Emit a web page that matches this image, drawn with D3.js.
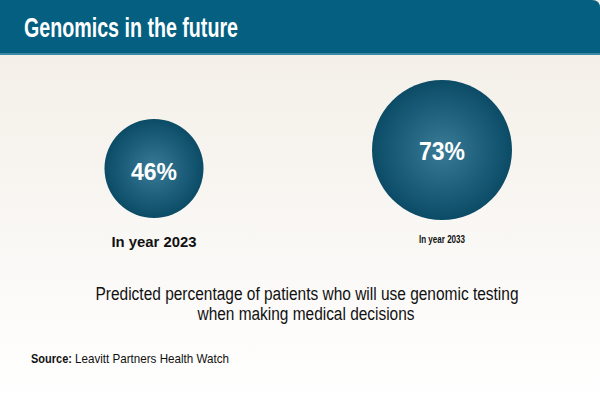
<!DOCTYPE html>
<html>
<head>
<meta charset="utf-8">
<script src="https://cdnjs.cloudflare.com/ajax/libs/d3/7.8.5/d3.min.js"></script>
<style>
  body { margin: 0; padding: 0; background: #fff; }
  svg { display: block; }
</style>
</head>
<body>
<script>
var years = ["In year 2023", "In year 2033"];
var values = [46, 73];
var labels = ["46%", "73%"];
var label_sizes = [15, 10];

var width = 600,
    height = 399;

var font = "'Liberation Sans', Arial, sans-serif";

var svg = d3.select("body").append("svg")
    .attr("width", width)
    .attr("height", height);

var defs = svg.append("defs");

// background, beige fading to white
var bg = defs.append("linearGradient")
    .attr("id", "bg_grad")
    .attr("x1", "0%").attr("x2", "0%")
    .attr("y1", "0%").attr("y2", "100%");
bg.append("stop").attr("offset", "0%").attr("stop-color", "#f2ede5");
bg.append("stop").attr("offset", "100%").attr("stop-color", "#ffffff");

var bubble = defs.append("radialGradient")
    .attr("id", "bubble_grad")
    .attr("cx", "50%").attr("cy", "50%").attr("r", "50%");
bubble.append("stop").attr("offset", "0%").attr("stop-color", "#3a7c96");
bubble.append("stop").attr("offset", "60%").attr("stop-color", "#1d5f7b");
bubble.append("stop").attr("offset", "100%").attr("stop-color", "#0b4b66");

svg.append("rect")
    .attr("width", width)
    .attr("height", height)
    .style("fill", "url(#bg_grad)");

// header band
svg.append("path")
    .attr("d", "M0,54 L0,0 L592,0 Q600,0 600,8 L600,54 Z")
    .style("fill", "#045f80");
svg.append("rect")
    .attr("x", 0).attr("y", 53)
    .attr("width", width).attr("height", 2)
    .style("fill", "#3b87a5");

svg.append("text")
    .attr("x", 24)
    .attr("y", 37)
    .attr("textLength", 214)
    .attr("lengthAdjust", "spacingAndGlyphs")
    .style("font-family", font)
    .style("font-weight", "bold")
    .style("font-size", "28px")
    .style("fill", "#ffffff")
    .text("Genomics in the future");

var xScale = d3.scalePoint()
    .domain(years)
    .range([154, 442]);

var rScale = d3.scalePow()
    .exponent(0.75)
    .domain([0, 73])
    .range([0, 70]);

var yBottom = 220;

var g = svg.selectAll(".bubble")
    .data(years)
    .enter().append("g")
    .attr("class", "bubble");

g.append("circle")
    .attr("cx", function(d) { return xScale(d); })
    .attr("cy", function(d, i) { return yBottom - rScale(values[i]) - (i == 0 ? 2 : 0); })
    .attr("r", function(d, i) { return rScale(values[i]); })
    .style("fill", "url(#bubble_grad)");

g.append("text")
    .attr("x", function(d) { return xScale(d); })
    .attr("y", function(d, i) { return yBottom - rScale(values[i]) + 10; })
    .attr("text-anchor", "middle")
    .attr("textLength", 46)
    .attr("lengthAdjust", "spacingAndGlyphs")
    .style("font-family", font)
    .style("font-weight", "bold")
    .style("font-size", function(d, i) { return i == 0 ? "24px" : "25px"; })
    .style("fill", "#ffffff")
    .text(function(d, i) { return labels[i]; });

g.append("text")
    .attr("x", function(d) { return xScale(d); })
    .attr("y", function(d, i) { return i == 0 ? 247 : 243; })
    .attr("text-anchor", "middle")
    .attr("textLength", function(d, i) { return i == 0 ? 85 : 46; })
    .attr("lengthAdjust", "spacingAndGlyphs")
    .style("font-family", font)
    .style("font-weight", "bold")
    .style("font-size", function(d, i) { return label_sizes[i] + "px"; })
    .style("fill", "#111")
    .text(function(d) { return d; });

var caption = svg.append("text")
    .attr("text-anchor", "middle")
    .style("font-family", font)
    .style("font-size", "18px")
    .style("fill", "#111");
caption.append("tspan").attr("x", 307).attr("y", 300)
    .attr("textLength", 423)
    .attr("lengthAdjust", "spacingAndGlyphs")
    .text("Predicted percentage of patients who will use genomic testing");
caption.append("tspan").attr("x", 306).attr("y", 320)
    .attr("textLength", 217)
    .attr("lengthAdjust", "spacingAndGlyphs")
    .text("when making medical decisions");

svg.append("text")
    .attr("x", 31)
    .attr("y", 363)
    .attr("textLength", 41)
    .attr("lengthAdjust", "spacingAndGlyphs")
    .style("font-family", font)
    .style("font-weight", "bold")
    .style("font-size", "13px")
    .style("fill", "#111")
    .text("Source:");
svg.append("text")
    .attr("x", 75)
    .attr("y", 363)
    .attr("textLength", 154)
    .attr("lengthAdjust", "spacingAndGlyphs")
    .style("font-family", font)
    .style("font-size", "13px")
    .style("fill", "#111")
    .text("Leavitt Partners Health Watch");
</script>
</body>
</html>
